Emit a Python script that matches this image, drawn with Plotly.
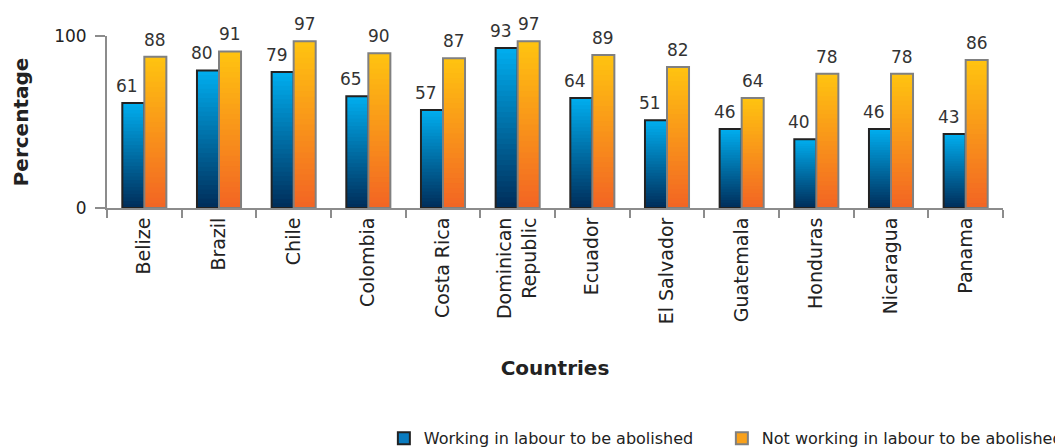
import plotly.graph_objects as go

countries = ["Belize", "Brazil", "Chile", "Colombia", "Costa Rica", "Dominican<br>Republic",
             "Ecuador", "El Salvador", "Guatemala", "Honduras", "Nicaragua", "Panama"]
working = [61, 80, 79, 65, 57, 93, 64, 51, 46, 40, 46, 43]
not_working = [88, 91, 97, 90, 87, 97, 89, 82, 64, 78, 78, 86]
series_names = ["Working in labour to be abolished", "Not working in labour to be abolished"]

FONT = "DejaVu Sans"
N_SEG = 30

def lerp(c1, c2, t):
    return "rgb(%d,%d,%d)" % tuple(round(a + (b - a) * t) for a, b in zip(c1, c2))

styles = [
    dict(top=(0, 174, 239), bottom=(0, 45, 90), line="#222222", mid="#0a7cc0", group="a",
         label_shift=-17),
    dict(top=(255, 196, 16), bottom=(242, 100, 36), line="#808080", mid="#f9a11b", group="b",
         label_shift=11),
]

fig = go.Figure()
for values, st, name in zip([working, not_working], styles, series_names):
    # gradient: overlapping bars from full height (top colour) down to short (bottom colour)
    for k in range(N_SEG - 1, -1, -1):
        t = (k + 0.5) / N_SEG
        fig.add_trace(go.Bar(
            x=countries, y=[v * (k + 1) / N_SEG for v in values],
            offsetgroup=st["group"], marker=dict(color=lerp(st["bottom"], st["top"], t), line=dict(width=0)),
            showlegend=False, hoverinfo="skip"))
    # outline
    fig.add_trace(go.Bar(
        x=countries, y=values, offsetgroup=st["group"],
        marker=dict(color="rgba(0,0,0,0)", line=dict(color=st["line"], width=2)),
        showlegend=False))
    # legend entry
    fig.add_trace(go.Bar(
        x=[countries[0]], y=[None], offsetgroup=st["group"], name=name,
        marker=dict(color=st["mid"], line=dict(color=st["line"], width=2))))
    # value labels
    for c, v in zip(countries, values):
        fig.add_annotation(x=c, y=v, text=str(v), showarrow=False, xshift=st["label_shift"],
                           yanchor="middle", yshift=17,
                           font=dict(family=FONT, size=17, color="#333333"))

fig.update_layout(
    width=1055, height=440,
    margin=dict(l=99, r=60, t=28, b=240, autoexpand=False),
    paper_bgcolor="white", plot_bgcolor="white",
    barmode="group", bargap=0.41, bargroupgap=0,
    font=dict(family=FONT, size=17, color="#222222"),
    showlegend=True,
    legend=dict(orientation="h", x=0.309, xanchor="left", y=-1.24, yanchor="top",
                font=dict(family=FONT, size=16, color="#222222"), entrywidth=293,
                traceorder="normal"),
    xaxis=dict(showline=True, linecolor="#8c8c8c", linewidth=2, ticks="outside",
               tickson="boundaries", ticklen=8, tickcolor="#8c8c8c", tickwidth=1.5,
               tickangle=-90, tickfont=dict(family=FONT, size=19, color="#222222"),
               showgrid=False, automargin=False,
               title=dict(text="<b>Countries</b>", font=dict(family=FONT, size=20, color="#222222"),
                          standoff=38)),
    yaxis=dict(range=[0, 100], tickvals=[0, 100], showline=True, linecolor="#8c8c8c", linewidth=2,
               ticks="outside", ticklen=10, tickcolor="#8c8c8c", tickwidth=1.5, showgrid=False,
               zeroline=False, automargin=False, ticklabelstandoff=5,
               tickfont=dict(family=FONT, size=17, color="#222222"),
               title=dict(text="<b>Percentage</b>", font=dict(family=FONT, size=20, color="#222222"),
                          standoff=20)),
)

fig.write_html("out.html")
